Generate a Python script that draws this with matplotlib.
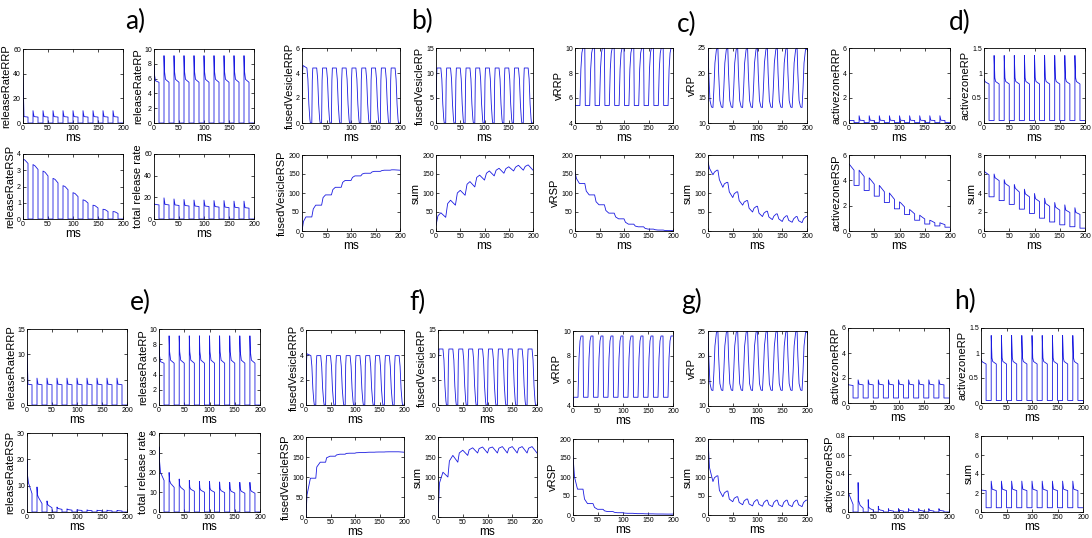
import matplotlib
matplotlib.use("Agg")
import matplotlib.pyplot as plt
from matplotlib.ticker import FormatStrFormatter

plt.rcParams['font.family'] = ['Liberation Sans', 'DejaVu Sans']

# stimulation pulses (ms), one every 20 ms, 10 ms long
PULSE_T = [0, 20, 40, 60, 80, 100, 120, 140, 160, 180]
T_END = 200

# each trace: knot offsets inside a pulse period + knot values per pulse
# ---- a) release rates
A1_T = [0, 0, 2, 10, 10]
A1_Y = [[0, 38, 5.2, 4.8, 0]] + [[0, 10, 5.2, 4.8, 0]] * 9
A2_T = [0, 0, 1, 3, 10, 10]
A2_Y = [[0, 7.8, 6.5, 5.7, 5.5, 0]] + [[0, 9.1, 7.0, 5.9, 5.5, 0]] * 9
A3_T = [0, 0, 4, 10, 10]
A3_Y = [[0, 3.70, 3.62, 3.42, 0], [0, 3.35, 3.27, 3.05, 0], [0, 2.95, 2.88, 2.65, 0],
        [0, 2.50, 2.44, 2.22, 0], [0, 2.05, 2.00, 1.80, 0], [0, 1.62, 1.57, 1.38, 0],
        [0, 1.18, 1.14, 0.98, 0], [0, 0.85, 0.82, 0.68, 0], [0, 0.60, 0.58, 0.46, 0],
        [0, 0.46, 0.44, 0.34, 0]]
A4_T = [0, 0, 2, 10, 10]
A4_Y = [[0, 14.5, 13.5, 13.0, 0], [0, 19.5, 13.5, 13.0, 0], [0, 18.5, 13.0, 12.5, 0],
        [0, 18.0, 12.5, 12.0, 0], [0, 17.5, 12.0, 11.5, 0], [0, 17.5, 12.0, 11.5, 0],
        [0, 17.0, 11.5, 11.0, 0], [0, 17.0, 11.0, 10.5, 0], [0, 16.5, 10.8, 10.3, 0],
        [0, 16.5, 10.5, 10.0, 0]]

# ---- b) fused vesicles
B1_T = [0, 1, 2, 10, 12, 14, 16, 17]
B1_Y = [[0, 4.0, 4.6, 4.4, 3.5, 1.5, 0.3, 0]] + [[0, 3.4, 4.4, 4.4, 3.5, 1.5, 0.3, 0]] * 9
B2_T = [0, 1, 2, 10, 12, 14, 16, 17]
B2_Y = [[0, 8.5, 11, 11, 8.8, 3.8, 0.8, 0]] * 10
B3_T = [0, 3, 8]
B3_Y = [[0, 25, 37], [37, 58, 68], [68, 88, 95], [95, 109, 115], [115, 128, 133],
        [133, 141, 145], [145, 150, 152], [152, 155.5, 157], [157, 159, 160], [160, 161, 161]]
B3_END = 160
B4_T = [0, 4, 10]
B4_Y = [[15, 40, 48], [36, 72, 81], [68, 100, 107], [94, 123, 130], [116, 141, 147],
        [134, 152, 158], [145, 160, 165], [152, 164, 169], [158, 168, 173], [160, 170, 174]]
B4_END = 160

# ---- c) vesicle pools
C1_T = [0, 1, 10, 12, 14, 16]
C1_Y = [[5.4, 5.4, 5.4, 8.3, 9.6, 10]] + [[10, 5.4, 5.4, 8.3, 9.6, 10]] * 9
C2_T = [0, 1.5, 4, 7, 10, 12, 14, 17]
C2_Y = [[25, 20, 14.5, 13.2, 13.1, 17, 22, 24.7]] * 10
C3_T = [0, 3, 9]
C3_Y = [[155, 138, 125], [125, 105, 95], [95, 77, 69], [69, 54, 47], [47, 37, 32],
        [32, 23, 18], [18, 13, 11], [11, 7, 5], [5, 3.5, 2.5], [2.5, 1.5, 1]]
C3_END = 1
C4_T = [0, 3, 10, 13, 18]
C4_Y = [[182, 165, 148, 155, 160], [160, 135, 115, 124, 128], [128, 103, 88, 98, 103],
        [103, 80, 68, 76, 80], [80, 60, 50, 60, 65], [65, 47, 38, 47, 52],
        [52, 37, 30, 39, 45], [45, 32, 25, 34, 40], [40, 28, 23, 32, 38], [38, 27, 22, 32, 38]]
C4_END = 38

# ---- d) active zone
D1_T = [0, 0, 2, 10, 10]
D1_Y = [[0.15, 0.25, 0.2, 0.2, 0.03]] + [[0.03, 0.58, 0.22, 0.2, 0.03]] * 9
D2_T = [0, 0, 1.5, 3, 10, 10]
D2_Y = [[0.85, 0.88, 0.84, 0.82, 0.78, 0.05]] + [[0.05, 1.35, 0.9, 0.83, 0.78, 0.05]] * 9
D3_T = [0, 0, 3, 10, 10]
D3_Y = [[5.3, 5.3, 5.15, 4.8, 3.6], [3.6, 4.8, 4.65, 4.3, 3.2], [3.2, 4.2, 4.05, 3.7, 2.75],
        [2.75, 3.6, 3.45, 3.1, 2.25], [2.25, 3.0, 2.85, 2.5, 1.75], [1.75, 2.3, 2.2, 1.9, 1.3],
        [1.3, 1.7, 1.6, 1.35, 0.85], [0.85, 1.25, 1.15, 0.95, 0.55], [0.55, 0.85, 0.8, 0.65, 0.4],
        [0.4, 0.65, 0.6, 0.5, 0.3]]
D4_T = [0, 0, 2, 10, 10]
D4_Y = [[6.4, 6.4, 6.2, 5.9, 3.6], [3.6, 6.0, 5.6, 5.3, 3.2], [3.2, 5.4, 5.0, 4.7, 2.8],
        [2.8, 4.9, 4.5, 4.1, 2.3], [2.3, 4.4, 3.9, 3.6, 1.85], [1.85, 3.95, 3.4, 3.1, 1.35],
        [1.35, 3.45, 2.9, 2.6, 0.95], [0.95, 3.0, 2.5, 2.2, 0.65], [0.65, 2.75, 2.2, 1.95, 0.45],
        [0.45, 2.45, 1.95, 1.75, 0.3]]

# ---- e) release rates, second condition
E1_T = [0, 0, 2, 10, 10]
E1_Y = [[0, 10.5, 4.1, 4.0, 0]] + [[0, 5.3, 4.1, 4.0, 0]] * 9
E2_T = A2_T
E2_Y = A2_Y
E3_T = [0, 0, 1, 3, 10, 10]
E3_Y = [[0, 20, 14, 11, 7, 0], [0, 9.5, 6.5, 5.5, 3.2, 0], [0, 4.2, 3.0, 2.5, 1.6, 0],
        [0, 1.9, 1.5, 1.3, 1.0, 0], [0, 1.2, 1.0, 0.9, 0.7, 0], [0, 0.9, 0.8, 0.7, 0.6, 0],
        [0, 0.8, 0.7, 0.6, 0.5, 0], [0, 0.7, 0.6, 0.55, 0.5, 0], [0, 0.7, 0.6, 0.5, 0.45, 0],
        [0, 0.6, 0.55, 0.5, 0.4, 0]]
E4_T = [0, 0, 1, 3, 10, 10]
E4_Y = [[0, 33, 26, 20, 16, 0], [0, 20, 16, 14.5, 12.5, 0], [0, 16.7, 13.5, 12.5, 11, 0],
        [0, 16, 12.5, 11.5, 10.5, 0], [0, 15.5, 12, 11, 10, 0], [0, 15.5, 12, 11, 10, 0],
        [0, 15.2, 11.8, 10.8, 9.8, 0], [0, 15, 11.5, 10.5, 9.6, 0], [0, 15, 11.5, 10.5, 9.5, 0],
        [0, 15, 11.5, 10.5, 9.5, 0]]

# ---- f) fused vesicles, second condition
F1_T = [0, 1, 2, 10, 12, 14, 16, 17]
F1_Y = [[0, 3.5, 4.1, 3.95, 3.1, 1.3, 0.3, 0]] + [[0, 3.2, 3.95, 3.95, 3.1, 1.3, 0.3, 0]] * 9
F2_T = [0, 1, 2, 10, 12, 14, 16, 17]
F2_Y = [[0, 8.8, 11.2, 11.2, 9, 3.8, 0.8, 0]] * 10
F3_T = [0, 2, 9]
F3_Y = [[0, 55, 97], [97, 125, 137], [137, 148, 152], [152, 155, 157], [157, 159, 159.5],
        [159.5, 160.5, 161], [161, 161.5, 162], [162, 162.3, 162.5], [162.5, 162.8, 163],
        [163, 163, 163]]
F3_END = 162
F4_T = [0, 3, 10]
F4_Y = [[0, 85, 112], [100, 140, 154], [137, 160, 167], [154, 168, 173], [160, 171, 175],
        [160, 172, 175], [160, 172, 176], [160, 172, 176], [160, 172, 176], [160, 172, 176]]
F4_END = 160

# ---- g) vesicle pools, second condition
G1_T = [0, 1, 10, 12, 14, 16]
G1_Y = [[4.0, 4.7, 4.7, 7.8, 9.2, 9.6]] + [[9.6, 4.7, 4.7, 7.8, 9.2, 9.6]] * 9
G2_T = C2_T
G2_Y = [[25, 20, 14.5, 13.2, 13.1, 17, 22, 24.7]] * 10
G3_T = [0, 3, 9]
G3_Y = [[155, 100, 68], [68, 42, 30], [30, 20, 15], [15, 11, 9], [9, 7, 6],
        [6, 5, 4.5], [4.5, 4, 3.5], [3.5, 3.2, 3], [3, 2.8, 2.6], [2.6, 2.5, 2.4]]
G3_END = 2.4
G4_T = [0, 3, 10, 13, 18]
G4_Y = [[200, 125, 88, 98, 103], [103, 65, 48, 58, 63], [63, 42, 35, 44, 48],
        [48, 33, 27, 37, 42], [42, 29, 24, 34, 40], [40, 28, 23, 33, 39]] + [[39, 27, 22, 33, 39]] * 4
G4_END = 39

# ---- h) active zone, second condition
H1_T = [0, 0, 2, 10, 10]
H1_Y = [[1.45, 1.5, 1.45, 1.4, 0.4]] + [[0.4, 1.85, 1.5, 1.45, 0.4]] * 9
H2_T = D2_T
H2_Y = D2_Y
H3_T = [0, 0, 1, 4, 10, 10]
H3_Y = [[0, 0.44, 0.2, 0.16, 0.08, 0], [0, 0.31, 0.12, 0.07, 0.04, 0],
        [0, 0.13, 0.05, 0.035, 0.02, 0], [0, 0.06, 0.03, 0.02, 0.015, 0]] + [[0, 0.035, 0.02, 0.015, 0.01, 0]] * 6
H4_T = [0, 0, 2, 10, 10]
H4_Y = [[2.3, 2.35, 2.3, 2.25, 0.45]] + [[0.45, 3.25, 2.4, 2.25, 0.45]] * 9

XTICKS = [0, 50, 100, 150, 200]

# (offsets, rows, end value, ylabel, ylim, yticks) for every subplot, panel by panel
PANELS = [
    ("a)", [(A1_T, A1_Y, None, "releaseRateRRP", (0, 60), [0, 20, 40, 60]),
            (A2_T, A2_Y, None, "releaseRateRP", (0, 10), [0, 2, 4, 6, 8, 10]),
            (A3_T, A3_Y, None, "releaseRateRSP", (0, 4), [0, 1, 2, 3, 4]),
            (A4_T, A4_Y, None, "total release rate", (0, 60), [0, 20, 40, 60])]),
    ("b)", [(B1_T, B1_Y, None, "fusedVesicleRRP", (0, 6), [0, 2, 4, 6]),
            (B2_T, B2_Y, None, "fusedVesicleRP", (0, 15), [0, 5, 10, 15]),
            (B3_T, B3_Y, B3_END, "fusedVesicleRSP", (0, 200), [0, 50, 100, 150, 200]),
            (B4_T, B4_Y, B4_END, "sum", (0, 200), [0, 50, 100, 150, 200])]),
    ("c)", [(C1_T, C1_Y, None, "vRRP", (4, 10), [4, 6, 8, 10]),
            (C2_T, C2_Y, None, "vRP", (10, 25), [10, 15, 20, 25]),
            (C3_T, C3_Y, C3_END, "vRSP", (0, 200), [0, 50, 100, 150, 200]),
            (C4_T, C4_Y, C4_END, "sum", (0, 200), [0, 50, 100, 150, 200])]),
    ("d)", [(D1_T, D1_Y, None, "activezoneRRP", (0, 6), [0, 2, 4, 6]),
            (D2_T, D2_Y, None, "activezoneRP", (0, 1.5), [0, 0.5, 1, 1.5]),
            (D3_T, D3_Y, None, "activezoneRSP", (0, 6), [0, 2, 4, 6]),
            (D4_T, D4_Y, None, "sum", (0, 8), [0, 2, 4, 6, 8])]),
    ("e)", [(E1_T, E1_Y, None, "releaseRateRRP", (0, 15), [0, 5, 10, 15]),
            (E2_T, E2_Y, None, "releaseRateRP", (0, 10), [0, 2, 4, 6, 8, 10]),
            (E3_T, E3_Y, None, "releaseRateRSP", (0, 30), [0, 10, 20, 30]),
            (E4_T, E4_Y, None, "total release rate", (0, 40), [0, 10, 20, 30, 40])]),
    ("f)", [(F1_T, F1_Y, None, "fusedVesicleRRP", (0, 6), [0, 2, 4, 6]),
            (F2_T, F2_Y, None, "fusedVesicleRP", (0, 15), [0, 5, 10, 15]),
            (F3_T, F3_Y, F3_END, "fusedVesicleRSP", (0, 200), [0, 50, 100, 150, 200]),
            (F4_T, F4_Y, F4_END, "sum", (0, 200), [0, 50, 100, 150, 200])]),
    ("g)", [(G1_T, G1_Y, None, "vRRP", (4, 10), [4, 6, 8, 10]),
            (G2_T, G2_Y, None, "vRP", (10, 25), [10, 15, 20, 25]),
            (G3_T, G3_Y, G3_END, "vRSP", (0, 200), [0, 50, 100, 150, 200]),
            (G4_T, G4_Y, G4_END, "sum", (0, 200), [0, 50, 100, 150, 200])]),
    ("h)", [(H1_T, H1_Y, None, "activezoneRRP", (0, 6), [0, 2, 4, 6]),
            (H2_T, H2_Y, None, "activezoneRP", (0, 1.5), [0, 0.5, 1, 1.5]),
            (H3_T, H3_Y, None, "activezoneRSP", (0, 0.8), [0, 0.2, 0.4, 0.6, 0.8]),
            (H4_T, H4_Y, None, "sum", (0, 8), [0, 2, 4, 6, 8])]),
]

# layout in pixels: panel title centre, then axes boxes (x0, y0, x1, y1) TL, TR, BL, BR
W, H = 1092, 538
LAYOUT = [
    ((135, 21), [(23, 49, 123, 123), (154, 49, 254, 123), (23, 154, 123, 219), (154, 154, 254, 219)]),
    ((422, 21), [(302, 48, 400, 123), (436, 48, 533, 123), (302, 155, 400, 231), (436, 155, 533, 231)]),
    ((687, 24), [(575, 48, 673, 123), (708, 48, 807, 123), (575, 155, 673, 231), (708, 155, 807, 231)]),
    ((960, 22), [(849, 48, 950, 123), (984, 48, 1085, 123), (849, 155, 950, 231), (984, 155, 1085, 231)]),
    ((140, 302), [(27, 329, 127, 405), (159, 329, 260, 405), (27, 433, 127, 512), (159, 433, 260, 512)]),
    ((417, 302), [(306, 330, 404, 405), (438, 330, 537, 405), (306, 437, 404, 517), (438, 437, 537, 517)]),
    ((691, 301), [(573, 331, 673, 406), (708, 331, 807, 406), (573, 439, 673, 515), (708, 439, 807, 515)]),
    ((965, 301), [(848, 328, 949, 403), (981, 328, 1083, 403), (848, 436, 949, 512), (981, 436, 1083, 512)]),
]

LINE = "#1a1ae0"


def build(offs, rows, end=None):
    t, y = [], []
    for t0, row in zip(PULSE_T, rows):
        t += [t0 + o for o in offs]
        y += row
    t.append(T_END)
    y.append(rows[-1][-1] if end is None else end)
    return t, y


fig = plt.figure(figsize=(W / 100, H / 100), dpi=100)

for (title, subs), (tpos, boxes) in zip(PANELS, LAYOUT):
    fig.text(tpos[0] / W, 1 - tpos[1] / H, title, ha="center", va="center",
             fontsize=19, family=["Lato", "DejaVu Sans"])
    for (offs, rows, end, label, ylim, yticks), (x0, y0, x1, y1) in zip(subs, boxes):
        ax = fig.add_axes([x0 / W, 1 - y1 / H, (x1 - x0) / W, (y1 - y0) / H])
        t, y = build(offs, rows, end)
        ax.plot(t, y, color=LINE, lw=0.6)
        ax.set_xlim(0, T_END)
        ax.set_ylim(*ylim)
        ax.set_xticks(XTICKS)
        ax.set_yticks(yticks)
        ax.xaxis.set_major_formatter(FormatStrFormatter("%g"))
        ax.yaxis.set_major_formatter(FormatStrFormatter("%g"))
        ax.tick_params(direction="in", top=True, right=True, length=2, width=0.5,
                       labelsize=5, pad=1.5)
        for s in ax.spines.values():
            s.set_linewidth(0.6)
        ax.set_xlabel("ms", fontsize=8.5, labelpad=0)
        ax.set_ylabel(label, fontsize=8, labelpad=1)

fig.savefig("out.png", dpi=100)
